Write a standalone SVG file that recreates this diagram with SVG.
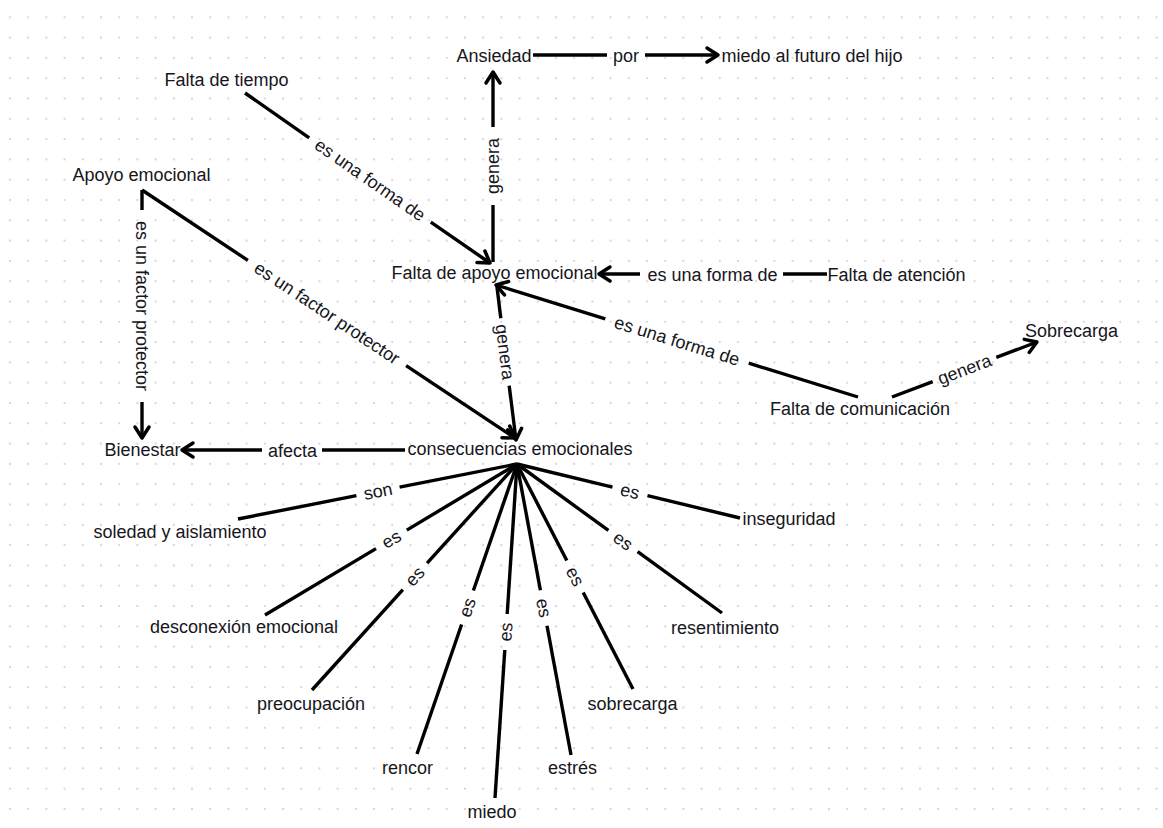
<svg xmlns="http://www.w3.org/2000/svg" width="1163" height="828" viewBox="0 0 1163 828">
<defs>
<pattern id="dots" x="9" y="16.3" width="18.2" height="20.3" patternUnits="userSpaceOnUse"><rect width="2" height="2" fill="#d6d6de"/></pattern>
<marker id="arr" markerUnits="userSpaceOnUse" markerWidth="18" markerHeight="18" refX="14" refY="9" orient="auto" overflow="visible"><path d="M3,2 L14,9 L3,16" fill="none" stroke="#000" stroke-width="3.5" stroke-linecap="round" stroke-linejoin="round"/></marker>
<style>
text{font-family:"Liberation Sans",Arial,sans-serif;font-size:18px;fill:#161620}
.n text{text-anchor:middle}
.lbl{text-anchor:middle}
line{stroke:#000;stroke-width:3.4;stroke-linecap:butt}
.a{marker-end:url(#arr)}
</style>
</defs>
<rect width="1163" height="828" fill="#fff"/>
<rect width="1163" height="828" fill="url(#dots)"/>

<g id="connectors">
<!-- Ansiedad por miedo -->
<line x1="533" y1="55" x2="607" y2="55"/>
<text class="lbl" x="626" y="61.5">por</text>
<line class="a" x1="645" y1="55" x2="718" y2="55"/>
<!-- Falta de apoyo -> genera -> Ansiedad -->
<line x1="493" y1="262" x2="493" y2="205"/>
<text class="lbl" transform="translate(493,166) rotate(-90)" y="6">genera</text>
<line class="a" x1="493" y1="127" x2="493" y2="72"/>
<!-- Falta de tiempo -> Falta de apoyo -->
<line x1="245" y1="93" x2="309.2" y2="137.8"/>
<text class="lbl" transform="translate(370,180) rotate(34.76)" y="6">es una forma de</text>
<line class="a" x1="430.8" y1="222.2" x2="490" y2="263"/>
<!-- Apoyo -> Bienestar -->
<line x1="142" y1="190" x2="142" y2="210"/>
<text class="lbl" transform="translate(142,306) rotate(90)" y="6">es un factor protector</text>
<line class="a" x1="142" y1="402" x2="142" y2="438"/>
<!-- Apoyo -> consecuencias -->
<line x1="142" y1="190" x2="247.9" y2="260.4"/>
<text class="lbl" transform="translate(327,313) rotate(33.62)" y="6">es un factor protector</text>
<line class="a" x1="406.1" y1="365.6" x2="515" y2="438"/>
<!-- Falta de apoyo -> genera -> consecuencias -->
<line x1="497" y1="287" x2="500.8" y2="318.3"/>
<text class="lbl" transform="translate(505,352) rotate(82.9)" y="6">genera</text>
<line class="a" x1="509.2" y1="385.7" x2="516" y2="440"/>
<!-- Falta de atencion -> Falta de apoyo -->
<line x1="827" y1="274" x2="783" y2="274"/>
<text class="lbl" x="712.5" y="280.5">es una forma de</text>
<line class="a" x1="640" y1="274" x2="599" y2="274"/>
<!-- Falta de comunicacion -> Falta de apoyo -->
<line x1="858" y1="397" x2="748.7" y2="363.2"/>
<text class="lbl" transform="translate(677,341) rotate(17.19)" y="6">es una forma de</text>
<line class="a" x1="605.3" y1="318.8" x2="496" y2="285"/>
<!-- Falta de comunicacion -> Sobrecarga -->
<line x1="892" y1="397" x2="932.7" y2="381.6"/>
<text class="lbl" transform="translate(964.5,369.5) rotate(-20.77)" y="6">genera</text>
<line class="a" x1="996.3" y1="357.4" x2="1037" y2="342"/>
<!-- consecuencias -> afecta -> Bienestar -->
<line x1="405" y1="450" x2="322" y2="450"/>
<text class="lbl" x="292.5" y="456.5">afecta</text>
<line class="a" x1="262" y1="450" x2="182" y2="450"/>
<!-- star -->
<line x1="517" y1="464" x2="399.6" y2="487.1"/>
<text class="lbl" transform="translate(378,491.4) rotate(-11.15)" y="6">son</text>
<line x1="356.4" y1="495.7" x2="238" y2="519"/>

<line x1="517" y1="464" x2="612.5" y2="487.2"/>
<text class="lbl" transform="translate(630,491.4) rotate(13.61)" y="6">es</text>
<line x1="647.5" y1="495.6" x2="740" y2="518"/>

<line x1="517" y1="464" x2="406.8" y2="530.1"/>
<text class="lbl" transform="translate(391.4,539.3) rotate(-30.93)" y="6">es</text>
<line x1="376" y1="548.6" x2="265" y2="615"/>

<line x1="517" y1="464" x2="608.4" y2="530.4"/>
<text class="lbl" transform="translate(623,541) rotate(36)" y="6">es</text>
<line x1="637.6" y1="551.6" x2="722" y2="613"/>

<line x1="517" y1="464" x2="427.1" y2="563.1"/>
<text class="lbl" transform="translate(415,576.4) rotate(-47.79)" y="6">es</text>
<line x1="402.9" y1="589.7" x2="312" y2="690"/>

<line x1="517" y1="464" x2="566.8" y2="560.5"/>
<text class="lbl" transform="translate(575,576.5) rotate(62.73)" y="6">es</text>
<line x1="583.2" y1="592.5" x2="633" y2="689"/>

<line x1="517" y1="464" x2="473.4" y2="590.5"/>
<text class="lbl" transform="translate(467.5,607.5) rotate(-70.97)" y="6">es</text>
<line x1="461.6" y1="624.5" x2="417" y2="754"/>

<line x1="517" y1="464" x2="540.4" y2="590.3"/>
<text class="lbl" transform="translate(543.7,608) rotate(79.49)" y="6">es</text>
<line x1="547" y1="625.7" x2="571" y2="755"/>

<line x1="517" y1="464" x2="507.2" y2="614"/>
<text class="lbl" transform="translate(506,632) rotate(-86.23)" y="6">es</text>
<line x1="504.8" y1="650" x2="495" y2="798"/>
</g>

<g id="n-ansiedad" class="n"><text x="494" y="62">Ansiedad</text></g>
<g id="n-miedo-futuro" class="n"><text x="812" y="62">miedo al futuro del hijo</text></g>
<g id="n-falta-tiempo" class="n"><text x="226.5" y="86">Falta de tiempo</text></g>
<g id="n-apoyo" class="n"><text x="141.5" y="181">Apoyo emocional</text></g>
<g id="n-falta-apoyo" class="n"><text x="494.5" y="279">Falta de apoyo emocional</text></g>
<g id="n-falta-atencion" class="n"><text x="896.5" y="281">Falta de atención</text></g>
<g id="n-sobrecarga-top" class="n"><text x="1071.5" y="337">Sobrecarga</text></g>
<g id="n-falta-comunicacion" class="n"><text x="860" y="415">Falta de comunicación</text></g>
<g id="n-bienestar" class="n"><text x="142.5" y="456">Bienestar</text></g>
<g id="n-consecuencias" class="n"><text x="520" y="455">consecuencias emocionales</text></g>
<g id="n-soledad" class="n"><text x="180" y="538">soledad y aislamiento</text></g>
<g id="n-inseguridad" class="n"><text x="789" y="525">inseguridad</text></g>
<g id="n-desconexion" class="n"><text x="244" y="633">desconexión emocional</text></g>
<g id="n-resentimiento" class="n"><text x="725" y="634">resentimiento</text></g>
<g id="n-preocupacion" class="n"><text x="311" y="710">preocupación</text></g>
<g id="n-sobrecarga" class="n"><text x="632.5" y="710">sobrecarga</text></g>
<g id="n-rencor" class="n"><text x="407.5" y="774">rencor</text></g>
<g id="n-estres" class="n"><text x="572.5" y="774">estrés</text></g>
<g id="n-miedo" class="n"><text x="492" y="818">miedo</text></g>
</svg>
